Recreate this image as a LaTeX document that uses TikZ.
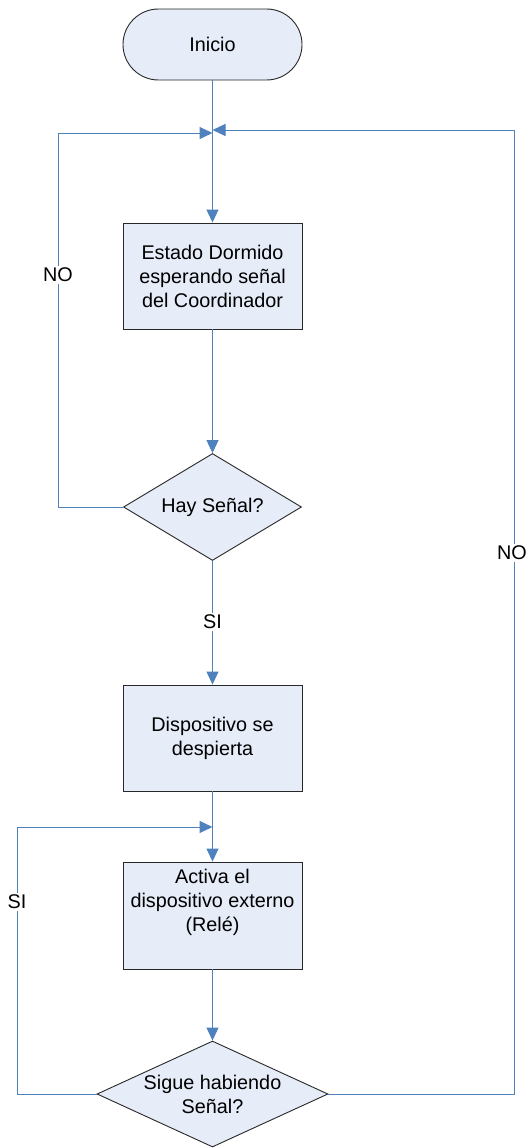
\documentclass[tikz,border=0pt]{standalone}
\usepackage{fontspec}
\setmainfont{Liberation Sans}
\usetikzlibrary{arrows.meta,shapes.geometric,calc}
\definecolor{flowline}{RGB}{79,129,189}
\definecolor{boxfill}{RGB}{230,236,248}
\definecolor{boxline}{RGB}{40,40,40}
\begin{document}
\begin{tikzpicture}[x=1pt,y=-1pt,
  every node/.style={font=\fontsize{19.8}{24}\selectfont},
  terminal/.style={draw=boxline,fill=boxfill,line width=0.9pt,rounded corners=35.5pt,
    minimum width=179pt,minimum height=71pt,inner sep=0pt},
  process/.style={draw=boxline,fill=boxfill,line width=0.9pt,
    minimum width=179pt,minimum height=106pt,inner sep=0pt,align=center},
  decision/.style={draw=boxline,fill=boxfill,line width=0.9pt,diamond,aspect=#1,
    inner sep=0pt,align=center},
  flow/.style={draw=flowline,line width=1pt,-{Triangle[length=13pt,width=12pt]}},
  plain/.style={draw=flowline,line width=1pt},
  tag/.style={fill=white,inner sep=2pt}]
\useasboundingbox (0,0) rectangle (529,1148);

% main column
\node[terminal] (inicio) at (212.5,44.5) {Inicio};
\node[process] (estado) at (212.5,276) {Estado Dormido\\esperando señal\\del Coordinador};
\node[decision=1.66,minimum width=178pt,minimum height=107pt] (hay) at (212.5,507) {Hay Señal?};
\node[process] (disp) at (212.5,738) {Dispositivo se\\despierta};
\node[process,minimum height=107pt] (activa) at (212.5,915.5) {};
\node[anchor=north,align=center] (activatxt) at ($(activa.north)+(0,4)$) {Activa el\\dispositivo externo\\(Relé)};
\node[decision=2.18,minimum width=231pt,minimum height=106pt] (sigue) at (212.5,1094) {Sigue habiendo\\Señal?};

% junction points and loop corners
\coordinate (j1l) at (212.5,133);
\coordinate (j1r) at (212.5,130);
\coordinate (j2) at (212.5,827);
\coordinate (noL) at (58,507);
\coordinate (noLt) at (58,133);
\coordinate (siL) at (17,1094);
\coordinate (siLt) at (17,827);
\coordinate (noR) at (514.7,1094);
\coordinate (noRt) at (514.7,130);

% connectors
\draw[flow] (inicio.south) -- (estado.north);
\draw[flow] (estado.south) -- (hay.north);
\draw[flow] (hay.south) -- node[tag,pos=0.49] (si1) {SI} (disp.north);
\draw[flow] (disp.south) -- (activa.north);
\draw[flow] (activa.south) -- (sigue.north);

\draw[plain] (hay.west) -- (noL) -- (noLt);
\draw[flow] (noLt) -- (j1l);
\draw[plain] (sigue.west) -- (siL) -- (siLt);
\draw[flow] (siLt) -- (j2);
\draw[plain] (sigue.east) -- (noR) -- (noRt);
\draw[flow] (noRt) -- (j1r);

% loop labels
\node[tag] (no1) at (58,275) {NO};
\node[tag] (si2) at (17,902) {SI};
\node[tag] (no2) at (512,553) {NO};
\end{tikzpicture}
\end{document}
